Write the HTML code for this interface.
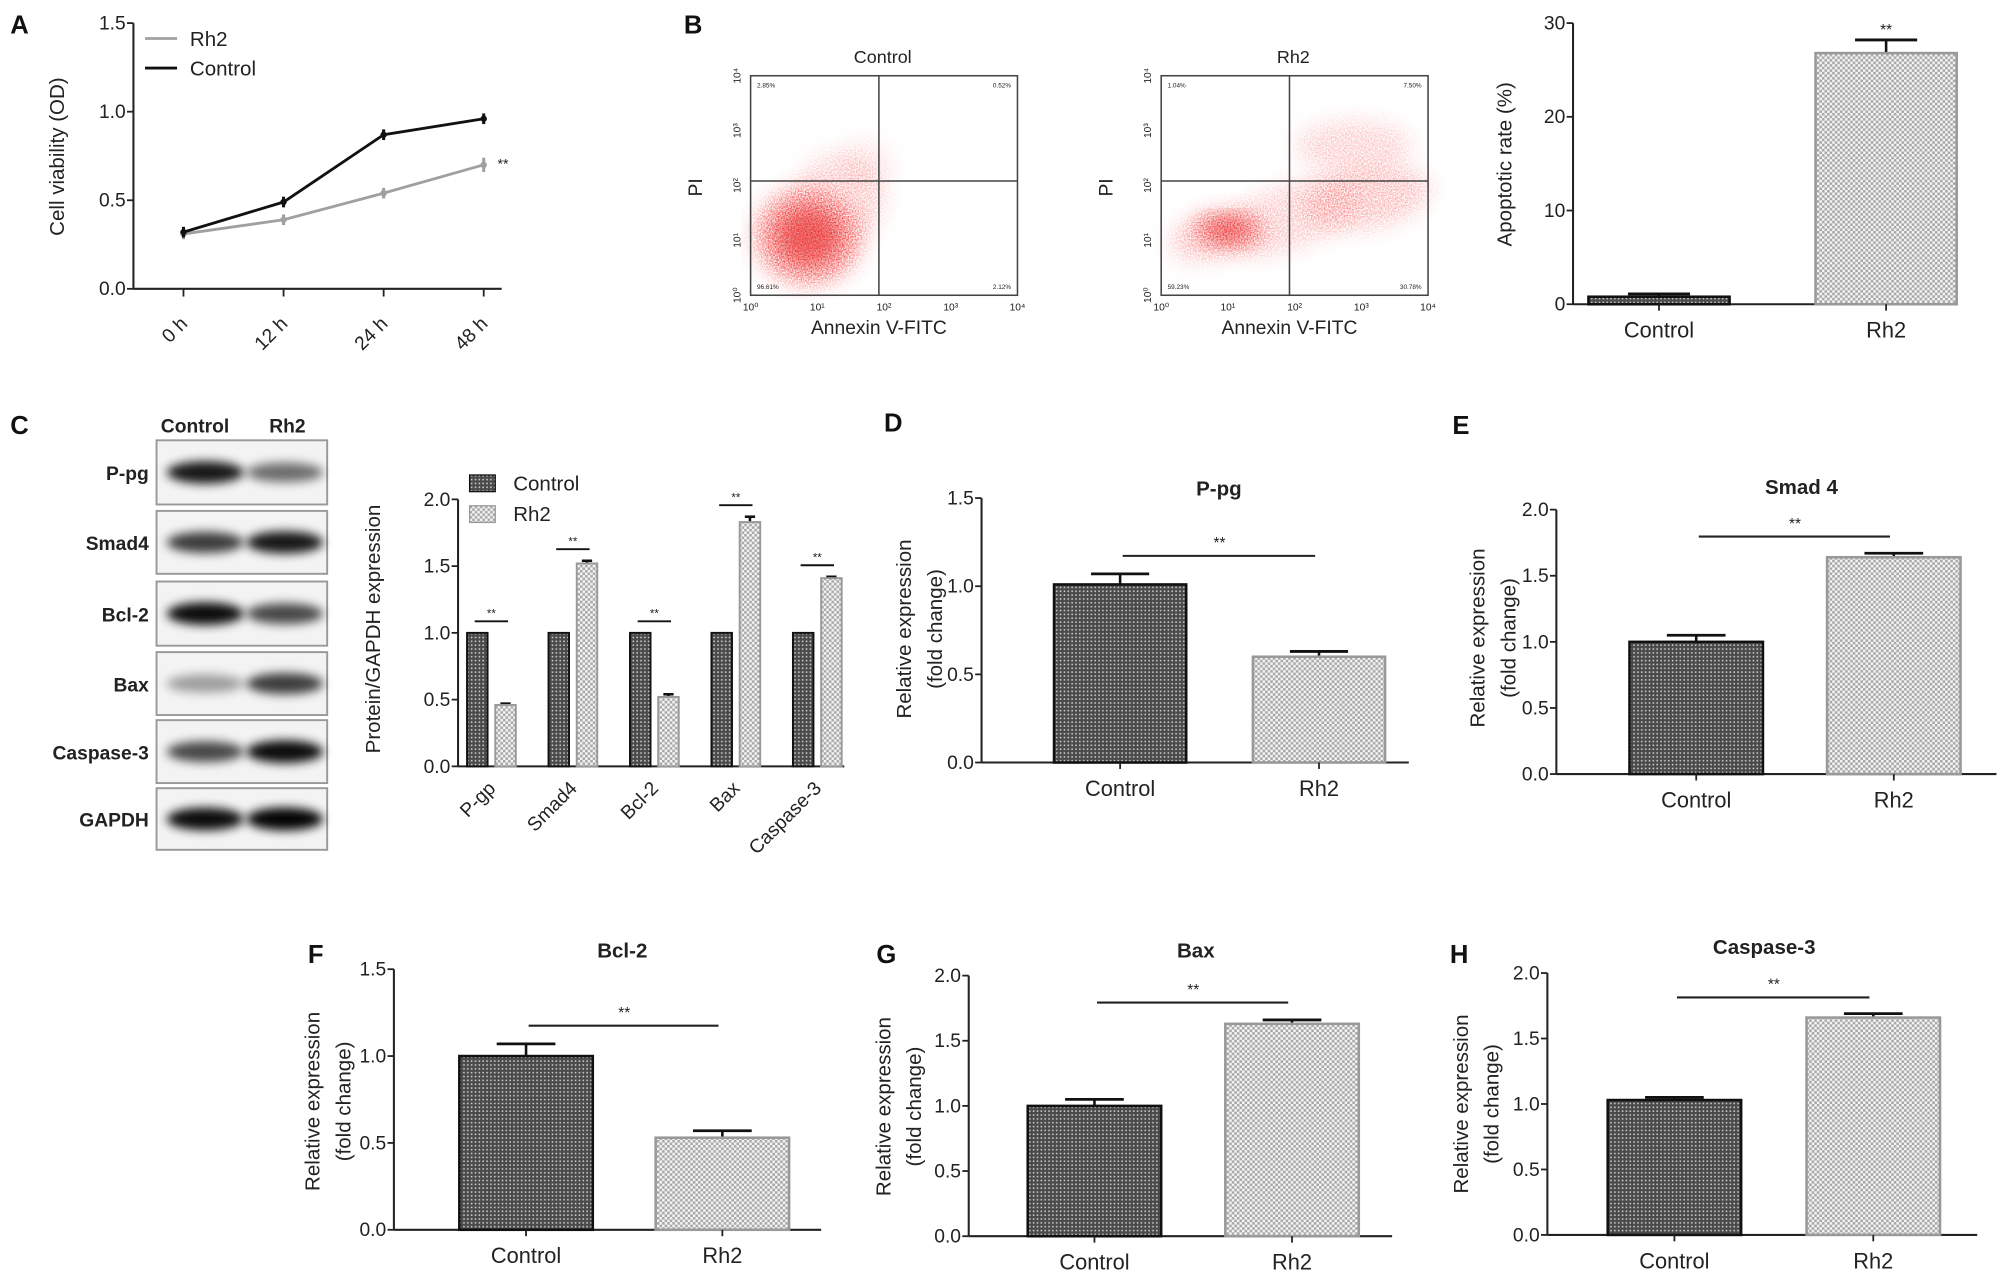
<!DOCTYPE html>
<html><head><meta charset="utf-8"><style>
html,body{margin:0;padding:0;background:#fff;}
svg{display:block;font-family:"Liberation Sans",Arial,sans-serif;}
</style></head><body>
<svg id="fig" width="2008" height="1276" viewBox="0 0 1565 994" preserveAspectRatio="none" xmlns="http://www.w3.org/2000/svg">
<defs>
<pattern id="darkPat" width="3" height="3" patternUnits="userSpaceOnUse"><rect width="3" height="3" fill="#4a4a4a"/><rect x="1" y="1" width="1.2" height="1.2" fill="#d0d0d0"/></pattern>
<pattern id="lightPat" width="4" height="4" patternUnits="userSpaceOnUse"><rect width="4" height="4" fill="#f4f4f4"/><rect x="0" y="0" width="2" height="2" fill="#a8a8a8"/><rect x="2" y="2" width="2" height="2" fill="#a8a8a8"/></pattern>
<filter id="blur4" x="-50%" y="-50%" width="200%" height="200%"><feGaussianBlur stdDeviation="4"/></filter>
<filter id="blur8" x="-50%" y="-50%" width="200%" height="200%"><feGaussianBlur stdDeviation="8"/></filter>
<filter id="speck"><feTurbulence type="fractalNoise" baseFrequency="0.9" numOctaves="1" seed="3" result="n"/><feColorMatrix in="n" type="matrix" values="0 0 0 0 0.9  0 0 0 0 0.05  0 0 0 0 0.05  0 0 0 -2.2 1.55" result="sp"/><feComposite in="sp" in2="SourceGraphic" operator="in" result="c"/><feMerge><feMergeNode in="c"/></feMerge></filter>
</defs>
<g id="root"></g>
</svg>
<script>
// ===== Panel A data =====
const aCats = ["0 h","12 h","24 h","48 h"];
const aControl = [0.32,0.49,0.87,0.96];
const aControlErr = [0.03,0.03,0.03,0.03];
const aRh2 = [0.31,0.39,0.54,0.70];
const aRh2Err = [0.03,0.03,0.03,0.04];
const aTicks = [0.0,0.5,1.0,1.5];
// ===== Panel B apoptosis =====
const bCats = ["Control","Rh2"];
const bVals = [0.8,26.8];
const bErrs = [0.3,1.4];
const bTicks = [0,10,20,30];
// ===== Panel C grouped =====
const cCats = ["P-gp","Smad4","Bcl-2","Bax","Caspase-3"];
const cControl = [1.0,1.0,1.0,1.0,1.0];
const cRh2 = [0.46,1.52,0.52,1.83,1.41];
const cRh2Err = [0.01,0.02,0.02,0.04,0.01];
const cTicks = [0.0,0.5,1.0,1.5,2.0];
// blot
const blotProteins = ["P-pg","Smad4","Bcl-2","Bax","Caspase-3","GAPDH"];
const blotControl = [0.9,0.75,0.95,0.35,0.7,0.95];
const blotRh2 = [0.55,0.9,0.7,0.75,0.95,0.98];
// ===== D-H =====
const dVals=[1.01,0.60], dErrs=[0.06,0.03], dTicks=[0.0,0.5,1.0,1.5];
const eVals=[1.00,1.64], eErrs=[0.05,0.03], eTicks=[0.0,0.5,1.0,1.5,2.0];
const fVals=[1.00,0.53], fErrs=[0.07,0.04], fTicks=[0.0,0.5,1.0,1.5];
const gVals=[1.00,1.63], gErrs=[0.05,0.03], gTicks=[0.0,0.5,1.0,1.5,2.0];
const hVals=[1.03,1.66], hErrs=[0.02,0.03], hTicks=[0.0,0.5,1.0,1.5,2.0];

const NS="http://www.w3.org/2000/svg";
const root=document.getElementById('root');
function el(tag,attrs,parent,text){const e=document.createElementNS(NS,tag);for(const k in attrs)e.setAttribute(k,attrs[k]);if(text!==undefined)e.textContent=text;(parent||root).appendChild(e);return e;}
function txt(x,y,s,size,opts,parent){opts=opts||{};const t=el('text',{x:x,y:y,'font-size':size,'text-anchor':opts.anchor||'middle',fill:opts.fill||'#222','font-weight':opts.bold?'bold':'normal'},parent,s);if(opts.rot!==undefined)t.setAttribute('transform','rotate('+opts.rot+' '+x+' '+y+')');return t;}
function fmt(v,d){return d===0?String(v):v.toFixed(1);}

function yAxis(g,x0,yTop,yBot,xEnd,maxV,ticks,dec){
  const ys=v=>yBot-(v/maxV)*(yBot-yTop);
  const ax=el('line',{x1:x0,y1:yTop,x2:x0,y2:yBot,stroke:'#222','stroke-width':1.6},g);
  
  const xa=el('line',{x1:x0,y1:yBot,x2:xEnd,y2:yBot,stroke:'#222','stroke-width':1.6},g);
  
  ticks.forEach(t=>{const y=ys(t);el('line',{x1:x0-5,y1:y,x2:x0,y2:y,stroke:'#222','stroke-width':1.4},g);
    const l=txt(x0-6,y+5,fmt(t,dec),15,{anchor:'end'},g);});
  return ys;
}
function ylabel(x,yc,lines,g){lines.forEach((s,i)=>{const t=txt(x+i*24,yc,s,16,{rot:-90},g);});}
function letter(x,y,s){const t=txt(x,y,s,20,{anchor:'start',bold:true,fill:'#111'});}

// ---------- two bar panels ----------
function twoBar(name,cfg,vals,errs,ticks){
  const g=el('g',{});
  const ys=yAxis(g,cfg.x0,cfg.yTop,cfg.yBot,cfg.xEnd,ticks[ticks.length-1],ticks,cfg.dec);
  const cats=["Control","Rh2"];
  vals.forEach((v,i)=>{
    const cx=cfg.x0+cfg.pad+i*cfg.gap, w=cfg.bw;
    const y=ys(v);
    el('line',{x1:cx,y1:y,x2:cx,y2:ys(v+errs[i]),stroke:'#111','stroke-width':2},g);
    el('line',{x1:cx-w*0.22,y1:ys(v+errs[i]),x2:cx+w*0.22,y2:ys(v+errs[i]),stroke:'#111','stroke-width':2.2},g);
    const r=el('rect',{x:cx-w/2,y:y,width:w,height:cfg.yBot-y,fill:i===0?'url(#darkPat)':'url(#lightPat)',stroke:i===0?'#111':'#999','stroke-width':2},g);
    
    el('line',{x1:cx,y1:cfg.yBot,x2:cx,y2:cfg.yBot+5,stroke:'#222','stroke-width':1.4},g);
    const l=txt(cx,cfg.yBot+26,cats[i],17,{},g);
  });
  if(cfg.title){const t=txt(cfg.tx,cfg.ty,cfg.title,16,{bold:true},g);}
  if(cfg.sig){const c0=cfg.x0+cfg.pad,c1=c0+cfg.gap;
    const sl=el('line',{x1:c0+2,y1:cfg.sig,x2:c1-3,y2:cfg.sig,stroke:'#222','stroke-width':1.6},g);
    const st=txt((c0+c1)/2,cfg.sig-6,'**',12,{},g);}
  else {const cx=cfg.x0+cfg.pad+cfg.gap;const st=txt(cx,ys(vals[1]+errs[1])-4,'**',12,{},g);}
  ylabel(cfg.ylx,cfg.yly,cfg.ylab,g);
}

// ---------- Panel A ----------
(function(){
  letter(8,26,'A');
  const g=el('g',{});
  const x0=104,yTop=18,yBot=225,xEnd=391;
  const ys=yAxis(g,x0,yTop,yBot,xEnd,1.5,aTicks,1);
  const xs=i=>143+i*(377-143)/(aCats.length-1);
  aCats.forEach((c,i)=>{el('line',{x1:xs(i),y1:yBot,x2:xs(i),y2:yBot+6,stroke:'#222','stroke-width':1.4},g);
    const l=txt(xs(i)+4,yBot+28,c,15,{anchor:'end',rot:-45},g);});
  function series(vals,errs,color,nm){
    const pts=vals.map((v,i)=>xs(i)+','+ys(v)).join(' ');
    const p=el('polyline',{points:pts,fill:'none',stroke:color,'stroke-width':2.2},g);
    
    vals.forEach((v,i)=>{el('line',{x1:xs(i),y1:ys(v-errs[i]),x2:xs(i),y2:ys(v+errs[i]),stroke:color,'stroke-width':2.4},g);
      const c=el('circle',{cx:xs(i),cy:ys(v),r:2.5,fill:color},g);});
  }
  series(aRh2,aRh2Err,'#a0a0a0','rh2');
  series(aControl,aControlErr,'#111','control');
  txt(xs(3)+15,ys(aRh2[3])+3,'**',11,{},g);
  const lg=el('g',{},g);
  el('line',{x1:113,y1:30,x2:138,y2:30,stroke:'#a0a0a0','stroke-width':2.2},lg);
  txt(148,36,'Rh2',16,{anchor:'start'},lg);
  el('line',{x1:113,y1:53,x2:138,y2:53,stroke:'#111','stroke-width':2.2},lg);
  txt(148,59,'Control',16,{anchor:'start'},lg);
  ylabel(50,122,['Cell viability (OD)'],g);
})();

// ---------- Panel B flow ----------
letter(533,26,'B');
function flow(name,x0,title,blobs,pcts){
  const g=el('g',{});
  const x1=x0+208,y0=59,y1=230;
  const c=el('g',{filter:'url(#speck)'},g);
  blobs.forEach(b=>{el('ellipse',{cx:x0+b[0],cy:y0+b[1],rx:b[2],ry:b[3],fill:'#e41a1a',opacity:b[4],filter:'url(#blur8)',transform:'rotate('+(b[5]||0)+' '+(x0+b[0])+' '+(y0+b[1])+')'},c);});
  const c2=el('g',{opacity:0.55},g);
  blobs.forEach(b=>{if(b[4]>0.9)el('ellipse',{cx:x0+b[0],cy:y0+b[1],rx:b[2]*0.6,ry:b[3]*0.6,fill:'#e41a1a',filter:'url(#blur8)'},c2);});
  el('rect',{x:x0,y:y0,width:208,height:171,fill:'none',stroke:'#444','stroke-width':1.2},g);
  const qx=x0+100,qy=y0+82;
  el('line',{x1:qx,y1:y0,x2:qx,y2:y1,stroke:'#444','stroke-width':1.2},g);
  el('line',{x1:x0,y1:qy,x2:x1,y2:qy,stroke:'#444','stroke-width':1.2},g);
  for(let i=0;i<=4;i++){const xx=x0+i*52;txt(xx,y1+12,'10'+['⁰','¹','²','³','⁴'][i],8,{},g);
    const yy=y1-i*42.75;txt(x0-8,yy,'10'+['⁰','¹','²','³','⁴'][i],8,{rot:-90},g);}
  txt(x0+5,y0+9,pcts[0],5,{anchor:'start'},g);txt(x1-5,y0+9,pcts[1],5,{anchor:'end'},g);
  txt(x0+5,y1-5,pcts[2],5,{anchor:'start'},g);txt(x1-5,y1-5,pcts[3],5,{anchor:'end'},g);
  const t=txt(x0+103,y0-10,title,14,{},g);
  const xl=txt(x0+100,y1+30,'Annexin V-FITC',15,{},g);
  const yl=txt(x0-38,y0+87,'PI',15,{rot:-90},g);
}
flow('flow-control',585,'Control',[[45,125,42,38,0.95],[70,95,35,35,0.35],[90,70,20,20,0.2]],['2.85%','0.52%','96.61%','2.12%']);
flow('flow-rh2',905,'Rh2',[[52,120,30,14,1],[100,110,60,25,0.35,-20],[160,95,50,24,0.45,-10],[150,55,45,20,0.35],[30,130,25,15,0.4]],['1.04%','7.50%','59.23%','30.78%']);

twoBar('apoptotic-rate-chart',{x0:1226,yTop:18,yBot:237,xEnd:1515,pad:67,gap:177,bw:110,dec:0,ylx:1178,yly:128,ylab:['Apoptotic rate (%)']},bVals,bErrs,bTicks);

// ---------- Panel C blot ----------
letter(8,338,'C');
(function(){
  const g=el('g',{});
  txt(152,337,'Control',15,{bold:true},g);txt(224,337,'Rh2',15,{bold:true},g);
  const rowsY=[343,398,453,508,561,614], rowH=[50,49,50,49,49,48];
  blotProteins.forEach((p,i)=>{
    const r=el('rect',{x:122,y:rowsY[i],width:133,height:rowH[i],fill:'#f3f3f3',stroke:'#999','stroke-width':1.5},g);
    
    const cy=rowsY[i]+rowH[i]/2;
    el('ellipse',{cx:160,cy:cy,rx:30,ry:6+blotControl[i]*3,fill:'#000',opacity:blotControl[i],filter:'url(#blur4)'},g);
    el('ellipse',{cx:222,cy:cy,rx:30,ry:6+blotRh2[i]*3,fill:'#000',opacity:blotRh2[i],filter:'url(#blur4)'},g);
    const l=txt(116,cy+6,p,15,{anchor:'end',bold:true},g);
  });
})();
// ---------- Panel C bars ----------
(function(){
  const g=el('g',{});
  const x0=357,yTop=389,yBot=597,xEnd=658;
  const ys=yAxis(g,x0,yTop,yBot,xEnd,2.0,cTicks,1);
  const gx=i=>383+i*63.5, bw=16;
  cCats.forEach((c,i)=>{
    const cx=gx(i);
    const r1=el('rect',{x:cx-bw-3,y:ys(cControl[i]),width:bw,height:yBot-ys(cControl[i]),fill:'url(#darkPat)',stroke:'#111','stroke-width':1.5},g);
    
    const v=cRh2[i];
    el('line',{x1:cx+11,y1:ys(v),x2:cx+11,y2:ys(v+cRh2Err[i]),stroke:'#111','stroke-width':2},g);
    el('line',{x1:cx+7,y1:ys(v+cRh2Err[i]),x2:cx+15,y2:ys(v+cRh2Err[i]),stroke:'#111','stroke-width':2},g);
    const r2=el('rect',{x:cx+3,y:ys(v),width:bw,height:yBot-ys(v),fill:'url(#lightPat)',stroke:'#999','stroke-width':1.5},g);
    
    const sy=ys(Math.max(1,v+cRh2Err[i]))-9;
    el('line',{x1:cx-13,y1:sy,x2:cx+13,y2:sy,stroke:'#111','stroke-width':1.5},g);
    txt(cx,sy-3,'**',9,{},g);
    const l=txt(cx+4,yBot+18,c,15,{anchor:'end',rot:-45},g);
  });
  const lg=el('g',{},g);
  el('rect',{x:366,y:370,width:20,height:13,fill:'url(#darkPat)',stroke:'#111'},lg);txt(400,382,'Control',16,{anchor:'start'},lg);
  el('rect',{x:366,y:394,width:20,height:13,fill:'url(#lightPat)',stroke:'#999'},lg);txt(400,406,'Rh2',16,{anchor:'start'},lg);
  ylabel(296,490,['Protein/GAPDH expression'],g);
})();

letter(689,336,'D');letter(1132,338,'E');letter(240,750,'F');letter(683,750,'G');letter(1130,750,'H');
twoBar('p-pg-chart',{x0:765,yTop:388,yBot:594,xEnd:1098,pad:108,gap:155,bw:103,dec:1,title:'P-pg',tx:950,ty:386,sig:433,ylx:710,yly:490,ylab:['Relative expression','(fold change)']},dVals,dErrs,dTicks);
twoBar('smad4-chart',{x0:1213,yTop:397,yBot:603,xEnd:1556,pad:109,gap:154,bw:104,dec:1,title:'Smad 4',tx:1404,ty:385,sig:418,ylx:1157,yly:497,ylab:['Relative expression','(fold change)']},eVals,eErrs,eTicks);
twoBar('bcl2-chart',{x0:307,yTop:755,yBot:958,xEnd:640,pad:103,gap:153,bw:104,dec:1,title:'Bcl-2',tx:485,ty:746,sig:799,ylx:249,yly:858,ylab:['Relative expression','(fold change)']},fVals,fErrs,fTicks);
twoBar('bax-chart',{x0:755,yTop:760,yBot:963,xEnd:1085,pad:98,gap:154,bw:104,dec:1,title:'Bax',tx:932,ty:746,sig:781,ylx:694,yly:862,ylab:['Relative expression','(fold change)']},gVals,gErrs,gTicks);
twoBar('caspase3-chart',{x0:1206,yTop:758,yBot:962,xEnd:1541,pad:99,gap:155,bw:104,dec:1,title:'Caspase-3',tx:1375,ty:743,sig:777,ylx:1144,yly:860,ylab:['Relative expression','(fold change)']},hVals,hErrs,hTicks);
</script>
</body></html>
